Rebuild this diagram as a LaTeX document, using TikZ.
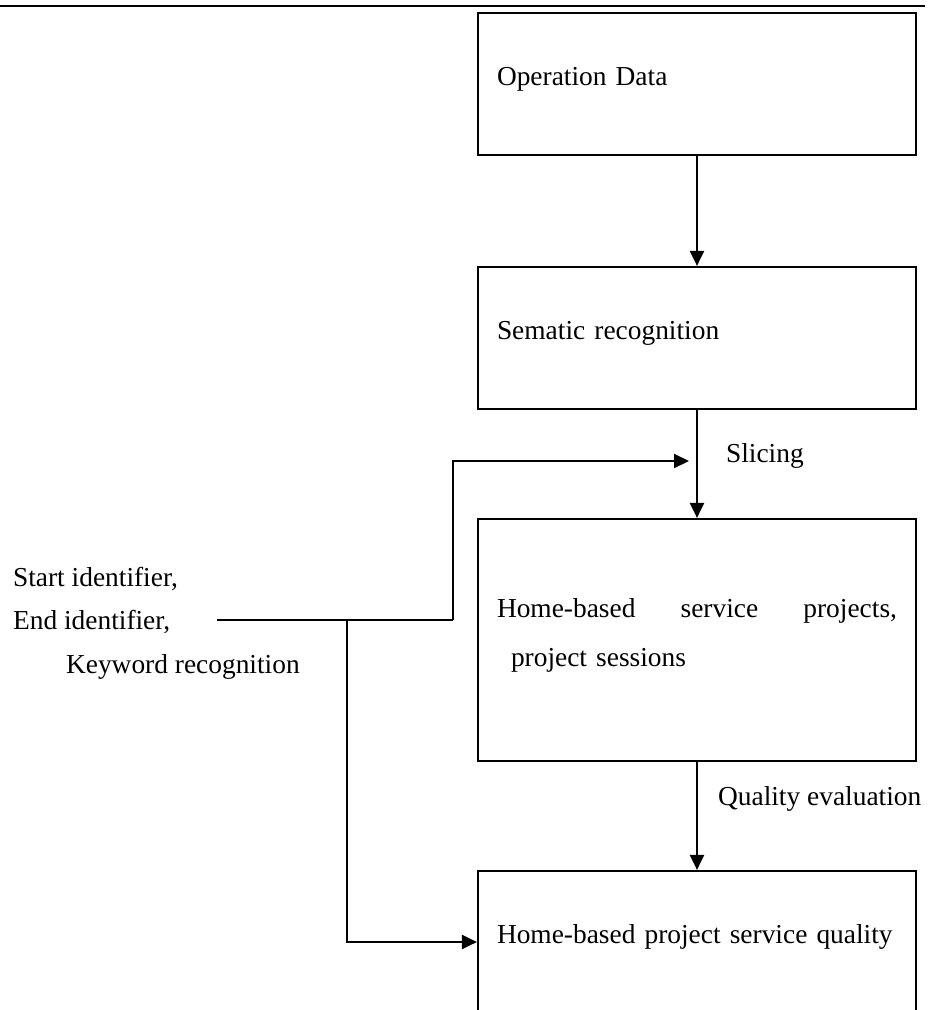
\documentclass[tikz,border=0pt]{standalone}
\usepackage{fontspec}
\setmainfont{Liberation Serif}
\usetikzlibrary{arrows.meta}

\begin{document}
\begin{tikzpicture}[x=1pt,y=-1pt,line width=2.2pt,
    >={Triangle[length=15pt,width=14pt]},
    stage/.style={draw,rectangle,minimum width=438pt,text width=400pt,
      inner xsep=19pt,inner ysep=0pt,align=left,
      font=\fontsize{27.4}{49}\selectfont,
      execute at end node=\rule[-16pt]{0pt}{0pt}},
    note/.style={inner sep=0pt,font=\fontsize{27.4}{43.5}\selectfont}]
  \clip (0,0) rectangle (928,1010);
  % rule across the top
  \draw[line width=2.6pt] (0,6) -- (925,6);
  % processing chain
  \node[stage,minimum height=142pt] (op) at (697,84) {Operation Data};
  \node[stage,minimum height=142pt] (sem) at (697,338) {Sematic recognition};
  \node[stage,minimum height=242pt] (home) at (697,640)
    {Home-based\hfill service\hfill projects,\\\hspace*{14pt}project sessions};
  \node[stage,minimum height=142pt] (qual) at (697,942)
    {\mbox{Home-based project service quality}};
  \draw[->] (op) -- (sem);
  \draw[->] (sem) -- (home);
  \draw[->] (home) -- (qual);
  \node[note,anchor=base west] (slicing) at (725,462) {Slicing};
  \node[note,anchor=base west] (evaluation) at (717,805) {Quality evaluation};
  % identifiers feeding the slicing and the quality step
  \node[note,anchor=north west,align=left] (ids) at (12,566)
    {Start identifier,\\End identifier,\\\hspace*{53pt}Keyword recognition};
  \coordinate (src) at (217,620);
  \coordinate (split) at (347,620);
  \coordinate (turn) at (453,620);
  \coordinate (slice) at (689,461);
  \draw (src) -- (turn);
  \draw[->] (turn) |- (slice);
  \draw[->] (split) |- (qual.west);
\end{tikzpicture}
\end{document}
